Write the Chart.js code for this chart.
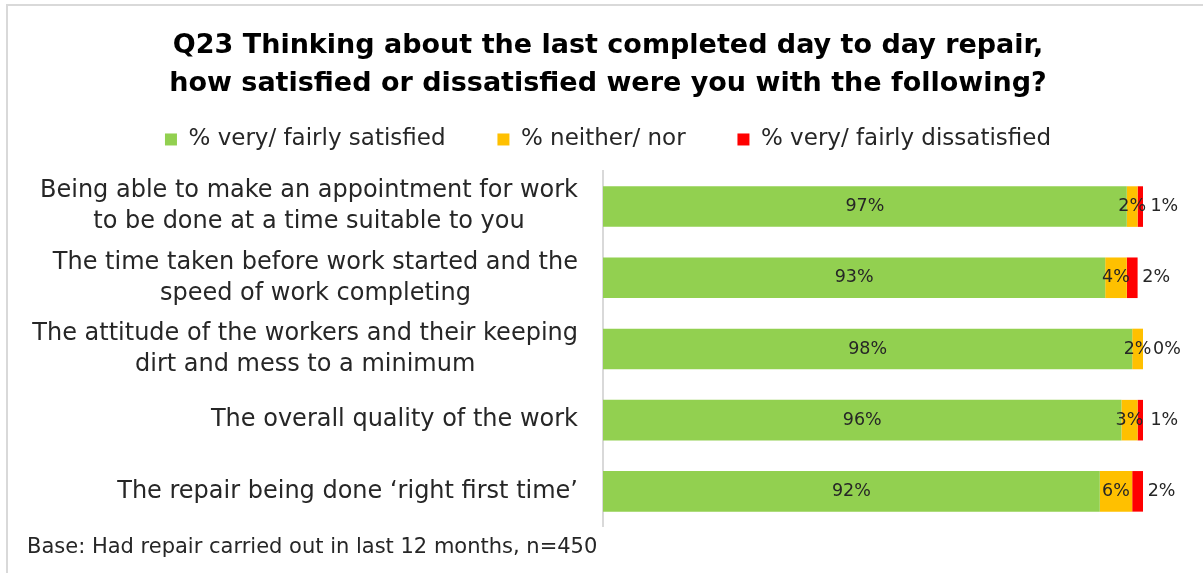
<!DOCTYPE html>
<html>
<head>
<meta charset="utf-8">
<script src="https://cdn.jsdelivr.net/npm/chart.js@4.4.0/dist/chart.umd.min.js"></script>
<style>
    html, body { margin: 0; padding: 0; background: #fff; overflow: hidden; }
    #wrap { position: relative; width: 1203px; height: 573px; }
    #frame { position: absolute; left: 6px; top: 4px; width: 1220px; height: 620px; border: 2px solid #d9d9d9; box-sizing: border-box; }
    canvas { position: absolute; left: 0; top: 0; }
</style>
</head>
<body>
<div id="wrap">
    <div id="frame"></div>
    <canvas id="chart-repair" width="1203" height="573"></canvas>
</div>
<script>
const title_lines = [
    'Q23 Thinking about the last completed day to day repair,',
    'how satisfied or dissatisfied were you with the following?'
];
const footnote = 'Base: Had repair carried out in last 12 months, n=450';

const categories = [
    ['Being able to make an appointment for work', 'to be done at a time suitable to you'],
    ['The time taken before work started and the', 'speed of work completing'],
    ['The attitude of the workers and their keeping', 'dirt and mess to a minimum'],
    ['The overall quality of the work'],
    ['The repair being done \u2018right first time\u2019']
];

const series_names = ['% very/ fairly satisfied', '% neither/ nor', '% very/ fairly dissatisfied'];
const satisfied = [97, 93, 98, 96, 92];
const neither = [2, 4, 2, 3, 6];
const dissatisfied = [1, 2, 0, 1, 2];

const FONT = '"DejaVu Sans", sans-serif';
const TEXT = '#262626';

Chart.defaults.font.family = FONT;
Chart.defaults.color = TEXT;

// category labels: widest line right aligned, lines centred under each other
const categoryLabels = {
    id: 'categoryLabels',
    afterDraw(chart) {
        const ctx = chart.ctx;
        const yScale = chart.scales.y;
        const right = chart.chartArea.left - 25;
        ctx.save();
        ctx.font = '24px ' + FONT;
        ctx.fillStyle = TEXT;
        ctx.textAlign = 'center';
        ctx.textBaseline = 'middle';
        categories.forEach((lines, i) => {
            const y = yScale.getPixelForValue(i);
            let maxW = 0;
            lines.forEach(l => { maxW = Math.max(maxW, ctx.measureText(l).width); });
            const cx = right - maxW / 2;
            lines.forEach((l, j) => {
                ctx.fillText(l, cx, y + (j - (lines.length - 1) / 2) * 31);
            });
        });
        ctx.restore();
    }
};

const valueLabels = {
    id: 'valueLabels',
    afterDatasetsDraw(chart) {
        const ctx = chart.ctx;
        ctx.save();
        ctx.font = '17.5px ' + FONT;
        ctx.fillStyle = TEXT;
        ctx.textAlign = 'center';
        ctx.textBaseline = 'middle';
        chart.data.datasets.forEach((ds, di) => {
            chart.getDatasetMeta(di).data.forEach((bar, i) => {
                const p = bar.getProps(['x', 'y', 'base'], true);
                let cx = (p.x + p.base) / 2;
                if (di === 2) {
                    cx += 24; // dissatisfied sits outside the bar
                }
                ctx.fillText(Math.round(ds.data[i]) + '%', cx, p.y);
            });
        });
        ctx.restore();
    }
};

new Chart(document.getElementById('chart-repair'), {
    type: 'bar',
    data: {
        labels: categories,
        datasets: [
            { label: series_names[0], data: satisfied, backgroundColor: '#92D050', borderWidth: 0 },
            { label: series_names[1], data: neither, backgroundColor: '#FFC000', borderWidth: 0 },
            { label: series_names[2], data: dissatisfied, backgroundColor: '#FF0000', borderWidth: 0 }
        ].map(ds => Object.assign(ds, { xAxisID: 'x', yAxisID: 'y', barPercentage: 0.57, categoryPercentage: 1 }))
    },
    options: {
        indexAxis: 'y',
        responsive: false,
        animation: false,
        layout: { padding: { left: 27, right: 14, top: 0, bottom: 0 } },
        plugins: {
            title: {
                display: true,
                text: title_lines,
                color: '#000',
                font: { size: 27, weight: 'bold', lineHeight: 1.444 },
                padding: { top: 26, bottom: 16 }
            },
            legend: {
                display: true,
                position: 'top',
                labels: {
                    color: TEXT,
                    font: { size: 23 },
                    boxWidth: 12,
                    boxHeight: 12,
                    padding: 8,
                    generateLabels(chart) {
                        const items = Chart.defaults.plugins.legend.labels.generateLabels(chart);
                        items.forEach((it, i) => {
                            if (i < items.length - 1) it.text = it.text + '      ';
                        });
                        return items;
                    }
                }
            },
            subtitle: {
                display: true,
                text: footnote,
                position: 'bottom',
                align: 'start',
                color: TEXT,
                font: { size: 21, lineHeight: 1.05 },
                padding: { top: 10, bottom: 14 }
            },
            tooltip: { enabled: false }
        },
        scales: {
            x: {
                position: 'top',
                stacked: true,
                min: 0,
                max: 100,
                grid: { display: false },
                border: { display: false },
                ticks: { display: false },
                afterFit: s => { s.height = 10; }
            },
            y: {
                stacked: true,
                grid: { display: false },
                border: { display: true, color: '#d9d9d9', width: 2 },
                ticks: { display: false },
                afterFit: s => { s.width = 576; }
            },
            yRight: {
                type: 'linear',
                position: 'right',
                grid: { display: false },
                border: { display: false },
                ticks: { display: false },
                afterFit: s => { s.width = 46; }
            }
        }
    },
    plugins: [categoryLabels, valueLabels]
});
</script>
</body>
</html>
